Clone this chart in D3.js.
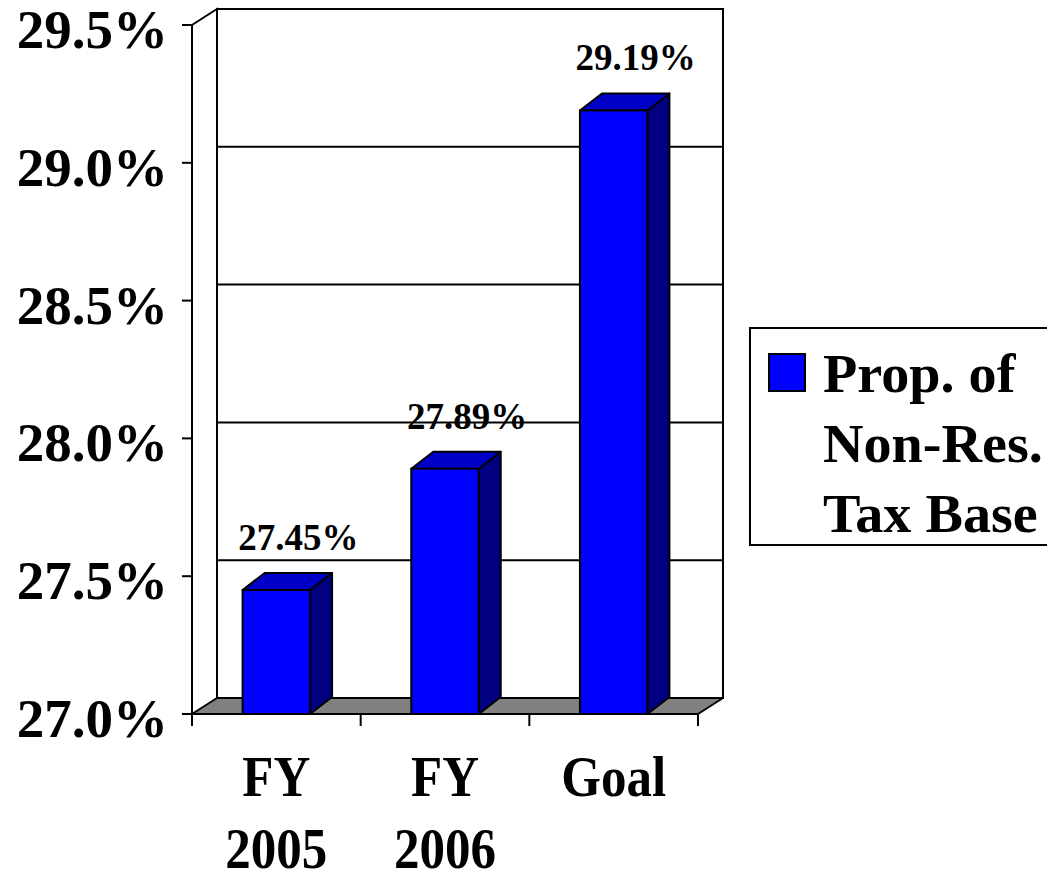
<!DOCTYPE html>
<html>
<head>
<meta charset="utf-8">
<script src="https://cdn.jsdelivr.net/npm/d3@7"></script>
<style>
  body { margin: 0; background: #fff; }
  text { font-family: "Liberation Serif", "Times New Roman", serif; font-weight: bold; fill: #000; }
</style>
</head>
<body>
<script>
const categories = [["FY", "2005"], ["FY", "2006"], ["Goal"]];
const values = [27.45, 27.89, 29.19];
const valueLabels = ["27.45%", "27.89%", "29.19%"];
const yTicks = [27.0, 27.5, 28.0, 28.5, 29.0, 29.5];
const legendLines = ["Prop. of", "Non-Res.", "Tax Base"];

const width = 1047;
const height = 873;

// front plane of the 3d box and the depth offset to the back wall
const plotLeft = 192, plotRight = 698, plotTop = 25, plotBottom = 714;
const depthX = 25, depthY = -16;
const barDX = 22, barDY = -17;

const svg = d3.select("body").append("svg")
  .attr("width", width)
  .attr("height", height);

const y = d3.scaleLinear().domain([27.0, 29.5]).range([plotBottom, plotTop]);
const x = d3.scaleBand()
  .domain(d3.range(categories.length))
  .range([plotLeft, plotRight])
  .paddingInner(0.6)
  .paddingOuter(0.3);

// back wall
const wall = svg.append("g");
wall.append("rect")
  .attr("x", plotLeft + depthX).attr("y", plotTop + depthY)
  .attr("width", plotRight - plotLeft).attr("height", plotBottom - plotTop)
  .attr("fill", "#fff").attr("stroke", "#000").attr("stroke-width", 2);

wall.selectAll("line.grid")
  .data(yTicks.slice(1, -1))
  .join("line")
  .attr("class", "grid")
  .attr("x1", plotLeft + depthX).attr("x2", plotRight + depthX)
  .attr("y1", d => y(d) + depthY).attr("y2", d => y(d) + depthY)
  .attr("stroke", "#000").attr("stroke-width", 2);

// left side wall
wall.append("path")
  .attr("d", `M${plotLeft},${plotBottom}L${plotLeft},${plotTop}L${plotLeft + depthX},${plotTop + depthY}L${plotLeft + depthX},${plotBottom + depthY}`)
  .attr("fill", "#fff").attr("stroke", "#000").attr("stroke-width", 2);

// floor
svg.append("path")
  .attr("d", `M${plotLeft},${plotBottom}L${plotRight},${plotBottom}L${plotRight + depthX},${plotBottom + depthY}L${plotLeft + depthX},${plotBottom + depthY}Z`)
  .attr("fill", "#808080").attr("stroke", "#000").attr("stroke-width", 2)
  .attr("stroke-linejoin", "round");

// y axis ticks and labels
const yAxis = svg.append("g");
yAxis.selectAll("line")
  .data(yTicks)
  .join("line")
  .attr("x1", plotLeft - 10).attr("x2", plotLeft)
  .attr("y1", d => y(d)).attr("y2", d => y(d))
  .attr("stroke", "#000").attr("stroke-width", 2);
yAxis.append("line")
  .attr("x1", plotLeft).attr("x2", plotLeft).attr("y1", plotTop).attr("y2", plotBottom)
  .attr("stroke", "#000").attr("stroke-width", 2);
yAxis.selectAll("text")
  .data(yTicks)
  .join("text")
  .attr("text-anchor", "end")
  .attr("font-size", 55)
  .attr("x", 168)
  .attr("y", d => y(d) + 23)
  .text(d => d3.format(".1f")(d) + "%");

// x axis ticks and labels
const xAxis = svg.append("g");
const step = (plotRight - plotLeft) / categories.length;
xAxis.selectAll("line")
  .data(d3.range(categories.length + 1))
  .join("line")
  .attr("x1", i => plotLeft + i * step).attr("x2", i => plotLeft + i * step)
  .attr("y1", plotBottom).attr("y2", plotBottom + 12)
  .attr("stroke", "#000").attr("stroke-width", 2);
xAxis.append("line")
  .attr("x1", plotLeft - 10).attr("x2", plotRight).attr("y1", plotBottom).attr("y2", plotBottom)
  .attr("stroke", "#000").attr("stroke-width", 2);
const catG = xAxis.selectAll("g.cat")
  .data(categories)
  .join("g")
  .attr("class", "cat")
  .attr("transform", (d, i) => `translate(${x(i) + x.bandwidth() / 2},796) scale(1.02,1.12)`);
catG.selectAll("text")
  .data(d => d)
  .join("text")
  .attr("text-anchor", "middle")
  .attr("font-size", 50)
  .attr("y", (d, j) => j * 64)
  .text(d => d);

// bars
const bars = svg.append("g").selectAll("g")
  .data(values)
  .join("g");
bars.each(function (v, i) {
  const g = d3.select(this);
  const x0 = x(i), x1 = x(i) + x.bandwidth();
  const y0 = y(v), y1 = plotBottom;
  // side face
  g.append("path")
    .attr("d", `M${x1},${y1}L${x1},${y0}L${x1 + barDX},${y0 + barDY}L${x1 + barDX},${y1 + barDY}Z`)
    .attr("fill", "#000080").attr("stroke", "#000").attr("stroke-width", 2)
    .attr("stroke-linejoin", "round");
  // top face
  g.append("path")
    .attr("d", `M${x0},${y0}L${x1},${y0}L${x1 + barDX},${y0 + barDY}L${x0 + barDX},${y0 + barDY}Z`)
    .attr("fill", "#0000c8").attr("stroke", "#000").attr("stroke-width", 2)
    .attr("stroke-linejoin", "round");
  // front face
  g.append("rect")
    .attr("x", x0).attr("y", y0)
    .attr("width", x1 - x0).attr("height", y1 - y0)
    .attr("fill", "#0000ff").attr("stroke", "#000").attr("stroke-width", 2);
});

// value labels
svg.append("g").selectAll("text")
  .data(values)
  .join("text")
  .attr("text-anchor", "middle")
  .attr("font-size", 37)
  .attr("x", (d, i) => x(i) + x.bandwidth() / 2 + 22)
  .attr("y", d => y(d) - 40)
  .text((d, i) => valueLabels[i]);

// legend
const legend = svg.append("g");
legend.append("rect")
  .attr("x", 750).attr("y", 328)
  .attr("width", 320).attr("height", 217)
  .attr("fill", "#fff").attr("stroke", "#000").attr("stroke-width", 2);
legend.append("rect")
  .attr("x", 769).attr("y", 354)
  .attr("width", 36).attr("height", 37)
  .attr("fill", "#0000ff").attr("stroke", "#000").attr("stroke-width", 2);
legend.selectAll("text")
  .data(legendLines)
  .join("text")
  .attr("font-size", 54)
  .attr("transform", (d, i) => `translate(823,${392 + i * 70}) scale(1.04,1)`)
  .text(d => d);
</script>
</body>
</html>
